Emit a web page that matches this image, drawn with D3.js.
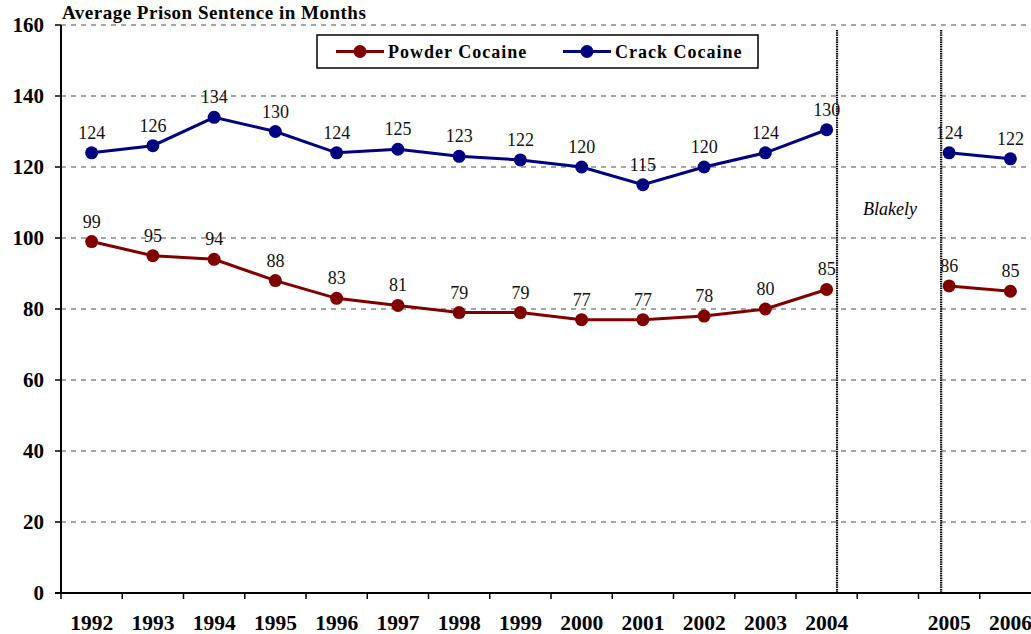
<!DOCTYPE html>
<html>
<head>
<meta charset="utf-8">
<script src="https://cdn.jsdelivr.net/npm/d3@7"></script>
<style>
  body { margin: 0; background: #fff; }
  svg { display: block; font-family: "Liberation Serif", "Times New Roman", serif; }
</style>
</head>
<body>
<svg id="chart" width="1031" height="634"></svg>
<script>
// years along the axis, "" is the empty Blakely slot
var years = ['1992','1993','1994','1995','1996','1997','1998','1999','2000','2001','2002','2003','2004','','2005','2006'];
var powder = [99, 95, 94, 88, 83, 81, 79, 79, 77, 77, 78, 80, 85.5, null, 86.5, 85];
var crack = [124, 126, 134, 130, 124, 125, 123, 122, 120, 115, 120, 124, 130.5, null, 124, 122.3];
var powderLabels = ['99','95','94','88','83','81','79','79','77','77','78','80','85','','86','85'];
var crackLabels = ['124','126','134','130','124','125','123','122','120','115','120','124','130','','124','122'];
var yTicks = [0, 20, 40, 60, 80, 100, 120, 140, 160];

var svg = d3.select('#chart');
var plotLeft = 61, plotRight = 1041, plotTop = 25, plotBottom = 593;

var x = d3.scaleBand().domain(d3.range(years.length)).range([plotLeft, plotRight]).paddingInner(0).paddingOuter(0);
var y = d3.scaleLinear().domain([0, 160]).range([plotBottom, plotTop]);
var bw = x.bandwidth();
function cx(i) { return x(i) + bw / 2; }

// gridlines
svg.append('g').selectAll('line').data(yTicks.filter(function(t){ return t > 0; }))
  .enter().append('line')
  .attr('x1', plotLeft).attr('x2', 1031)
  .attr('y1', function(d){ return y(d); }).attr('y2', function(d){ return y(d); })
  .attr('stroke', '#888').attr('stroke-width', 1.5).attr('stroke-dasharray', '5,5');

// blakely separators
var blakelyX = [x(12) + bw * 0.67, x(14) + bw * 0.37];
svg.append('g').selectAll('line').data(blakelyX).enter().append('line')
  .attr('x1', function(d){ return d; }).attr('x2', function(d){ return d; })
  .attr('y1', 30).attr('y2', plotBottom)
  .attr('stroke', '#000').attr('stroke-width', 2.2).attr('stroke-dasharray', '1.5,0.8');

svg.append('text').attr('x', (blakelyX[0] + blakelyX[1]) / 2 + 1).attr('y', 215)
  .attr('text-anchor', 'middle').attr('font-style', 'italic').attr('font-size', 18)
  .text('Blakely');

// axes
svg.append('line').attr('x1', plotLeft).attr('x2', plotLeft).attr('y1', plotTop).attr('y2', plotBottom)
  .attr('stroke', '#000').attr('stroke-width', 2);
svg.append('line').attr('x1', plotLeft - 6).attr('x2', 1031).attr('y1', plotBottom).attr('y2', plotBottom)
  .attr('stroke', '#000').attr('stroke-width', 2);

var yAxis = svg.append('g');
yAxis.selectAll('line').data(yTicks).enter().append('line')
  .attr('x1', plotLeft - 6).attr('x2', plotLeft)
  .attr('y1', function(d){ return y(d); }).attr('y2', function(d){ return y(d); })
  .attr('stroke', '#000').attr('stroke-width', 1.5);
yAxis.selectAll('text').data(yTicks).enter().append('text')
  .attr('x', 44).attr('y', function(d){ return y(d) + 7; })
  .attr('text-anchor', 'end').attr('font-weight', 'bold').attr('font-size', 21)
  .text(function(d){ return d; });

var xAxis = svg.append('g');
xAxis.selectAll('line').data(d3.range(years.length + 1)).enter().append('line')
  .attr('x1', function(i){ return plotLeft + i * bw; }).attr('x2', function(i){ return plotLeft + i * bw; })
  .attr('y1', plotBottom).attr('y2', plotBottom + 6)
  .attr('stroke', '#000').attr('stroke-width', 1.5);
xAxis.selectAll('text').data(years).enter().append('text')
  .attr('x', function(d, i){ return cx(i); }).attr('y', 630)
  .attr('text-anchor', 'middle').attr('font-weight', 'bold').attr('font-size', 21.5)
  .text(function(d){ return d; });

// title
svg.append('text').attr('x', 62).attr('y', 19)
  .attr('font-weight', 'bold').attr('font-size', 19).attr('letter-spacing', 0.5)
  .text('Average Prison Sentence in Months');

// series
var series = [
  { name: 'Powder Cocaine', values: powder, labels: powderLabels, color: '#800000' },
  { name: 'Crack Cocaine', values: crack, labels: crackLabels, color: '#000080' }
];

var line = d3.line()
  .defined(function(d){ return d != null; })
  .x(function(d, i){ return cx(i); })
  .y(function(d){ return y(d); });

series.forEach(function(s) {
  var g = svg.append('g');
  g.append('path').datum(s.values).attr('d', line)
    .attr('fill', 'none').attr('stroke', s.color).attr('stroke-width', 3);
  var pts = s.values.map(function(v, i){ return { v: v, i: i, label: s.labels[i] }; })
    .filter(function(d){ return d.v != null; });
  g.selectAll('circle').data(pts).enter().append('circle')
    .attr('cx', function(d){ return cx(d.i); }).attr('cy', function(d){ return y(d.v); })
    .attr('r', 6.5).attr('fill', s.color);
  g.selectAll('text').data(pts).enter().append('text')
    .attr('x', function(d){ return cx(d.i); }).attr('y', function(d){ return y(d.v) - 14; })
    .attr('text-anchor', 'middle').attr('font-size', 18).attr('fill', '#111')
    .text(function(d){ return d.label; });
});

// legend
var lg = svg.append('g');
lg.append('rect').attr('x', 317).attr('y', 35).attr('width', 441).attr('height', 33)
  .attr('fill', '#fff').attr('stroke', '#000').attr('stroke-width', 1.5);
var legendX = [336, 563];
series.forEach(function(s, i) {
  var lx = legendX[i];
  lg.append('line').attr('x1', lx).attr('x2', lx + 48).attr('y1', 51.5).attr('y2', 51.5)
    .attr('stroke', s.color).attr('stroke-width', 3);
  lg.append('circle').attr('cx', lx + 24).attr('cy', 51.5).attr('r', 6.5).attr('fill', s.color);
  lg.append('text').attr('x', lx + 52).attr('y', 58)
    .attr('font-weight', 'bold').attr('font-size', 18).attr('letter-spacing', 1)
    .text(s.name);
});
</script>
</body>
</html>
